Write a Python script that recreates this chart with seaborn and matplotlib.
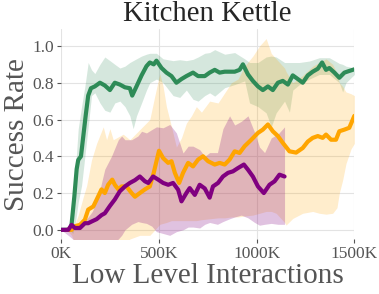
import matplotlib
matplotlib.use("Agg")
import matplotlib.pyplot as plt
import seaborn as sns

# Values (x in thousands of low level interactions)
green_x = [0, 46, 54, 68, 80, 88, 102, 114, 126, 139, 153, 173, 199, 224, 250, 275, 301, 327, 352, 364,
           386, 412, 437, 454, 474, 488, 514, 539, 565, 590, 616, 641, 675, 701, 735, 760, 786, 811, 837, 862,
           888, 913, 930, 956, 981, 1007, 1032, 1058, 1083, 1109, 1134, 1160, 1185, 1211, 1236, 1262, 1287, 1313, 1335, 1355,
           1372, 1398, 1423, 1449, 1474, 1500]
green_mean = [0.0, 0.0, 0.03, 0.18, 0.33, 0.38, 0.4, 0.51, 0.62, 0.73, 0.77, 0.78, 0.8, 0.785, 0.76, 0.8, 0.79, 0.775, 0.77, 0.73,
              0.78, 0.84, 0.89, 0.91, 0.9, 0.92, 0.88, 0.855, 0.836, 0.8, 0.82, 0.836, 0.855, 0.836, 0.836, 0.855, 0.87, 0.855, 0.86, 0.86,
              0.86, 0.87, 0.9, 0.845, 0.81, 0.78, 0.76, 0.78, 0.76, 0.8, 0.81, 0.79, 0.84, 0.82, 0.8, 0.84, 0.86, 0.876, 0.91, 0.87,
              0.88, 0.855, 0.827, 0.855, 0.864, 0.873]
green_band_x = [0, 46, 60, 75, 88, 105, 122, 139, 156, 173, 199, 224, 250, 275, 301, 327, 352, 369, 386, 412,
                437, 454, 488, 522, 573, 607, 641, 675, 701, 735, 760, 786, 837, 888, 939, 964, 1007, 1049, 1075, 1100,
                1143, 1168, 1185, 1219, 1270, 1321, 1372, 1423, 1440, 1457, 1500]
green_hi = [0, 0, 0.05, 0.35, 0.55, 0.67, 0.78, 0.91, 0.87, 0.85, 0.9, 0.94, 0.92, 0.9, 0.88, 0.89, 0.91, 0.92, 0.93, 0.945,
            0.955, 0.96, 0.96, 0.93, 0.92, 0.925, 0.92, 0.927, 0.94, 0.96, 0.964, 0.98, 0.955, 0.964, 0.93, 0.91, 0.91, 0.94, 0.945, 0.94,
            0.91, 0.91, 0.91, 0.91, 0.918, 0.936, 0.936, 0.905, 0.9, 0.89, 0.88]
green_lo = [0, 0, -0.02, 0.05, 0.15, 0.24, 0.4, 0.56, 0.73, 0.745, 0.69, 0.65, 0.64, 0.69, 0.7, 0.67, 0.62, 0.55, 0.62, 0.69,
            0.76, 0.8, 0.82, 0.8, 0.73, 0.72, 0.76, 0.71, 0.7, 0.73, 0.745, 0.727, 0.773, 0.79, 0.81, 0.69, 0.67, 0.636, 0.56, 0.636,
            0.7, 0.64, 0.76, 0.79, 0.82, 0.845, 0.845, 0.8, 0.75, 0.8, 0.845]

orange_x = [29, 54, 71, 97, 122, 139, 165, 182, 207, 224, 241, 262, 275, 293, 310, 335, 361, 378, 403, 429,
            454, 474, 501, 522, 548, 565, 582, 604, 624, 650, 675, 701, 726, 752, 786, 811, 837, 862, 888, 913,
            939, 973, 1007, 1032, 1058, 1083, 1109, 1134, 1168, 1202, 1236, 1262, 1287, 1313, 1338, 1355, 1381, 1406, 1423, 1449,
            1474, 1500]
orange_mean = [0.0, 0.0, 0.02, 0.027, 0.055, 0.11, 0.127, 0.164, 0.22, 0.2, 0.245, 0.273, 0.245, 0.22, 0.236, 0.236, 0.2, 0.18, 0.2, 0.22,
               0.236, 0.31, 0.43, 0.39, 0.364, 0.373, 0.31, 0.255, 0.31, 0.364, 0.345, 0.382, 0.4, 0.373, 0.355, 0.364, 0.355, 0.382, 0.427, 0.418,
               0.455, 0.49, 0.527, 0.545, 0.573, 0.536, 0.51, 0.473, 0.427, 0.42, 0.445, 0.48, 0.5, 0.51, 0.5, 0.518, 0.49, 0.49, 0.536, 0.545,
               0.555, 0.62]
orange_band_x = [29, 54, 71, 88, 114, 131, 156, 182, 216, 233, 250, 267, 284, 318, 352, 403, 454, 480, 505, 522,
                 539, 565, 590, 616, 641, 667, 692, 718, 760, 803, 837, 871, 905, 939, 981, 1015, 1049, 1075, 1100, 1143,
                 1151, 1185, 1236, 1287, 1321, 1355, 1389, 1411, 1423, 1440, 1457, 1483, 1500]
orange_hi = [0.0, 0.01, 0.03, 0.08, 0.18, 0.24, 0.38, 0.47, 0.56, 0.49, 0.55, 0.49, 0.5, 0.52, 0.49, 0.545, 0.6, 0.73, 0.85, 0.78,
             0.67, 0.56, 0.45, 0.5, 0.58, 0.62, 0.67, 0.64, 0.7, 0.69, 0.745, 0.8, 0.82, 0.89, 0.945, 1.0, 1.04, 0.96, 0.93, 0.88,
             0.86, 0.8, 0.84, 0.89, 0.91, 0.93, 0.9, 0.85, 0.8, 0.78, 0.75, 0.74, 0.73]
orange_lo = [0.0, -0.03, -0.08, -0.1, -0.1, -0.1, -0.1, -0.1, -0.1, -0.1, -0.1, -0.1, -0.1, -0.1, -0.05, -0.03, -0.03, 0.0, 0.03, 0.035,
             0.04, 0.05, 0.05, 0.05, 0.05, 0.05, 0.05, 0.055, 0.06, 0.065, 0.065, 0.07, 0.07, 0.075, 0.08, 0.09, 0.1, 0.1, 0.09, 0.04,
             0.026, 0.062, 0.09, 0.1, 0.09, 0.085, 0.09, 0.12, 0.2, 0.27, 0.36, 0.44, 0.47]

purple_x = [0, 37, 54, 71, 97, 122, 139, 156, 182, 207, 224, 250, 275, 301, 327, 352, 378, 403, 429, 446,
            471, 497, 522, 548, 573, 599, 616, 641, 658, 684, 709, 735, 760, 777, 803, 828, 854, 879, 905, 935,
            956, 981, 1007, 1037, 1066, 1092, 1117, 1143]
purple_mean = [0.0, 0.0, 0.027, 0.01, 0.01, 0.036, 0.036, 0.045, 0.058, 0.08, 0.09, 0.13, 0.165, 0.21, 0.236, 0.255, 0.27, 0.29, 0.264, 0.255,
               0.29, 0.273, 0.255, 0.245, 0.255, 0.218, 0.155, 0.2, 0.227, 0.19, 0.245, 0.225, 0.175, 0.236, 0.255, 0.29, 0.31, 0.318, 0.336, 0.355,
               0.327, 0.29, 0.236, 0.2, 0.245, 0.264, 0.3, 0.29]
purple_band_x = [0, 37, 71, 97, 122, 139, 160, 190, 224, 258, 293, 310, 327, 361, 393, 412, 437, 464, 488, 522,
                 556, 590, 624, 650, 675, 709, 735, 760, 800, 828, 862, 888, 922, 956, 990, 1015, 1041, 1075, 1109, 1143]
purple_hi = [0.0, 0.0, 0.03, 0.04, 0.05, 0.07, 0.1, 0.18, 0.33, 0.4, 0.49, 0.51, 0.49, 0.49, 0.51, 0.536, 0.527, 0.545, 0.56, 0.555,
             0.573, 0.527, 0.418, 0.455, 0.455, 0.436, 0.4, 0.42, 0.42, 0.55, 0.62, 0.57, 0.59, 0.62, 0.53, 0.45, 0.42, 0.5, 0.52, 0.56]
purple_lo = [0.0, -0.03, -0.06, -0.08, -0.08, -0.08, -0.08, -0.08, -0.08, -0.08, -0.05, -0.03, 0.0, 0.03, 0.045, 0.04, 0.035, 0.02, -0.01, -0.02,
             -0.03, -0.01, 0.0, 0.015, 0.015, 0.01, 0.03, 0.04, 0.03, 0.045, 0.06, 0.07, 0.08, 0.065, 0.04, 0.025, 0.03, 0.035, 0.03, 0.03]

xtick_vals = [0, 500, 1000, 1500]
xtick_labels = ["0K", "500K", "1000K", "1500K"]
ytick_vals = [0.0, 0.2, 0.4, 0.6, 0.8, 1.0]

sns.set_style("whitegrid", {"grid.color": "#e3e3e3", "axes.edgecolor": "white"})
plt.rcParams["font.family"] = ["Liberation Serif", "DejaVu Serif"]

fig = plt.figure(figsize=(3.79, 2.94), dpi=100)
ax = fig.add_axes([0.161, 0.187, 0.774, 0.713])

series = [
    (green_x, green_mean, green_band_x, green_lo, green_hi, "#2e8b57", 0.2),
    (orange_x, orange_mean, orange_band_x, orange_lo, orange_hi, "#ffa500", 0.2),
    (purple_x, purple_mean, purple_band_x, purple_lo, purple_hi, "#800080", 0.24),
]

# shaded spread first, then the mean curves on top
for _, _, bx, lo, hi, col, a in series:
    ax.fill_between(bx, lo, hi, color=col, alpha=a, linewidth=0)
for x, y, _, _, _, col, _ in series:
    sns.lineplot(x=x, y=y, color=col, linewidth=3, ax=ax)

ax.set_xlim(0, 1500)
ax.set_ylim(-0.05, 1.09)
ax.set_xticks(xtick_vals, xtick_labels)
ax.set_yticks(ytick_vals, [f"{v:.1f}" for v in ytick_vals])
ax.tick_params(axis="both", which="major", labelsize=12.5, labelcolor="#555555",
               color="#555555", length=3, width=0.8, left=True, bottom=True, pad=2)
for s in ax.spines.values():
    s.set_visible(False)

ax.set_title("Kitchen Kettle", fontsize=20.7, pad=6)
ax.set_xlabel("Low Level Interactions", fontsize=21, color="#555555", labelpad=1)
ax.set_ylabel("Success Rate", fontsize=21, color="#555555", labelpad=2)

fig.savefig("out.png", dpi=100)
